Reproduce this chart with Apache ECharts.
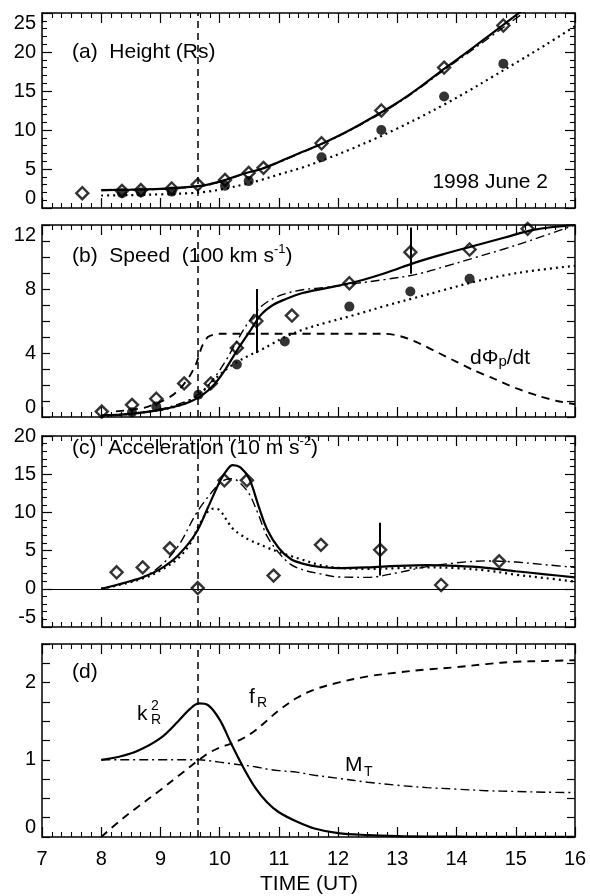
<!DOCTYPE html>
<html><head><meta charset="utf-8">
<script src="https://cdn.jsdelivr.net/npm/echarts@6/dist/echarts.min.js"></script>
<style>html,body{margin:0;padding:0;background:#fff}#c{width:590px;height:896px}</style>
</head><body><div id="c"></div>
<script>
// ---------- DATA ----------
const xTicks = [7, 8, 9, 10, 11, 12, 13, 14, 15, 16];
const onsetTime = 9.63;

// Panel (a) Height (Rs)
const aT = [8.0, 8.5, 9.0, 9.5, 9.8, 10.1, 10.4, 10.7, 11.0, 11.4, 11.8, 12.2, 12.6, 13.0, 13.4, 13.8, 14.2, 14.6, 15.0, 15.5, 16.0];
const aSolid   = [2.3, 2.35, 2.45, 2.7, 3.0, 3.6, 4.4, 5.0, 5.9, 7.2, 8.5, 10.0, 11.7, 13.5, 15.6, 17.9, 20.1, 22.4, 24.7, 27.5, 30.3];
const aDashDot = [2.25, 2.3, 2.4, 2.65, 2.95, 3.55, 4.35, 5.0, 5.85, 7.15, 8.45, 9.95, 11.6, 13.4, 15.5, 17.75, 19.9, 22.1, 24.3, 27.0, 29.7];
const aDotted  = [1.6, 1.65, 1.75, 1.9, 2.1, 2.5, 3.0, 3.6, 4.3, 5.2, 6.3, 7.5, 8.8, 10.2, 11.7, 13.3, 15.0, 16.8, 18.6, 20.9, 23.3];
const aDiamT = [7.68, 8.35, 8.67, 9.19, 9.63, 10.09, 10.49, 10.74, 11.72, 12.73, 13.79, 14.79];
const aDiamV = [1.9, 2.2, 2.3, 2.5, 3.0, 3.6, 4.5, 5.15, 8.3, 12.5, 18.0, 23.4];
const aDotT = [8.35, 8.67, 9.19, 10.09, 10.49, 11.72, 12.73, 13.79, 14.79];
const aDotV = [1.9, 2.0, 2.1, 2.85, 3.45, 6.5, 10.0, 14.3, 18.5];

// Panel (b) Speed (100 km/s)
const bT = [8.0, 8.5, 9.0, 9.3, 9.5, 9.7, 9.9, 10.1, 10.3, 10.5, 10.7, 10.9, 11.1, 11.4, 11.8, 12.3, 12.8, 13.3, 13.8, 14.3, 14.8, 15.3, 16.0];
const bSolid   = [0.1, 0.2, 0.45, 0.7, 0.95, 1.35, 2.0, 3.0, 4.2, 5.3, 6.4, 7.0, 7.35, 7.75, 8.05, 8.45, 9.0, 9.65, 10.2, 10.7, 11.2, 11.7, 12.0];
const bDashDot = [0.1, 0.2, 0.5, 0.8, 1.1, 1.6, 2.4, 3.5, 4.8, 6.0, 6.9, 7.4, 7.7, 7.95, 8.1, 8.35, 8.6, 8.9, 9.4, 9.95, 10.5, 11.1, 12.0];
const bDotted  = [0.05, 0.2, 0.45, 0.7, 1.0, 1.55, 2.3, 2.95, 3.45, 3.85, 4.2, 4.6, 5.0, 5.45, 5.9, 6.4, 6.95, 7.45, 7.95, 8.45, 8.85, 9.15, 9.45];
const bFluxT = [8.25, 8.5, 8.75, 9.0, 9.2, 9.35, 9.5, 9.6, 9.7, 9.8, 9.9, 10.0, 11.0, 12.0, 12.8, 13.1, 13.4, 13.7, 14.0, 14.3, 14.6, 15.0, 15.4, 15.7, 16.0];
const bFluxV = [0.35, 0.45, 0.6, 0.95, 1.35, 1.85, 2.6, 3.3, 4.4, 5.0, 5.15, 5.2, 5.2, 5.2, 5.2, 5.0, 4.55, 4.0, 3.45, 2.9, 2.45, 1.8, 1.3, 1.0, 0.8];
const bDiamT = [8.01, 8.52, 8.93, 9.4, 9.85, 10.29, 10.62, 11.22, 12.19, 13.22, 14.22, 15.2];
const bDiamV = [0.34, 0.76, 1.14, 2.1, 2.1, 4.32, 6.0, 6.34, 8.36, 10.3, 10.47, 11.76];
const bDotT = [8.52, 8.93, 9.64, 10.29, 11.1, 12.19, 13.22, 14.22];
const bDotV = [0.3, 0.66, 1.39, 3.28, 4.72, 6.9, 7.84, 8.64];
const bErrT  = [10.62, 13.22];
const bErrLo = [4.0, 8.95];
const bErrHi = [8.0, 11.85];

// Panel (c) Acceleration (10 m/s^2)
const cT = [8.0, 8.3, 8.7, 9.0, 9.3, 9.6, 9.8, 10.0, 10.1, 10.22, 10.35, 10.5, 10.65, 10.8, 11.0, 11.2, 11.4, 11.7, 12.0, 12.5, 13.0, 13.5, 14.0, 14.5, 15.0, 15.5, 16.0];
const cSolid   = [0, 0.6, 1.5, 2.6, 4.4, 7.3, 10.6, 14.0, 15.3, 16.2, 15.9, 14.4, 11.0, 7.8, 5.3, 3.9, 3.3, 2.85, 2.7, 2.8, 3.0, 3.1, 3.0, 2.75, 2.3, 1.9, 1.5];
const cDashDot = [0, 0.55, 1.5, 3.0, 5.6, 9.8, 12.0, 13.8, 14.3, 14.4, 13.8, 12.4, 9.8, 6.9, 4.7, 3.2, 2.5, 1.95, 1.55, 1.5, 2.1, 2.9, 3.4, 3.65, 3.5, 3.15, 2.8];
const cDotT = [8.0, 8.3, 8.7, 9.0, 9.3, 9.5, 9.65, 9.8, 9.9, 10.0, 10.1, 10.22, 10.35, 10.5, 10.65, 10.8, 11.0, 11.2, 11.4, 11.7, 12.0, 12.5, 13.0, 13.5, 14.0, 14.5, 15.0, 15.5, 16.0];
const cDotted  = [0, 0.5, 1.35, 2.4, 4.0, 5.9, 8.3, 10.1, 10.5, 10.3, 9.2, 7.9, 7.1, 6.4, 5.9, 5.4, 4.8, 4.3, 3.8, 3.1, 2.75, 2.6, 2.7, 2.8, 2.7, 2.4, 1.85, 1.4, 0.95];
const cDiamT = [8.26, 8.70, 9.16, 9.63, 10.08, 10.46, 10.91, 11.71, 12.71, 13.74, 14.72];
const cDiamV = [2.16, 2.8, 5.3, 0.1, 14.2, 14.2, 1.73, 5.75, 5.1, 0.5, 3.6];
const cErrT  = [12.71];
const cErrLo = [1.73];
const cErrHi = [8.65];

// Panel (d) k_R^2, f_R, M_T
const dT = [8.0, 8.3, 8.6, 9.0, 9.3, 9.5, 9.65, 9.8, 10.0, 10.2, 10.4, 10.6, 10.8, 11.0, 11.3, 11.6, 12.0, 12.5, 13.0, 13.5, 14.0, 14.5, 15.0, 15.5, 16.0];
const dK = [1.0, 1.04, 1.11, 1.28, 1.5, 1.66, 1.73, 1.71, 1.52, 1.2, 0.9, 0.64, 0.45, 0.32, 0.2, 0.11, 0.05, 0.025, 0.012, 0.006, 0.004, 0.003, 0.002, 0.002, 0.001];
const dF = [0, 0.2, 0.38, 0.61, 0.79, 0.91, 1.0, 1.08, 1.16, 1.21, 1.28, 1.38, 1.51, 1.64, 1.8, 1.91, 2.0, 2.08, 2.13, 2.17, 2.2, 2.24, 2.27, 2.28, 2.29];
const dM = [1.0, 1.0, 1.0, 1.0, 1.0, 1.0, 1.0, 0.99, 0.97, 0.95, 0.93, 0.91, 0.88, 0.86, 0.84, 0.8, 0.76, 0.71, 0.67, 0.64, 0.62, 0.6, 0.59, 0.58, 0.575];

// ---------- CHART ----------
const FONT = 'Liberation Sans, Arial, Helvetica, sans-serif';
const K = '#000';
const zip = (T, V) => T.map((t, i) => [t, V[i]]);

const grids = [
  {left: 42, right: 15, top: 13, height: 195},
  {left: 42, right: 15, top: 225, height: 192},
  {left: 42, right: 15, top: 436, height: 191},
  {left: 42, right: 15, top: 644, height: 193}
];
const yCfg = [
  {min: 0, max: 25, interval: 5, minor: 5, fmt: v => String(v), maxVA: 'top', minVA: 'bottom'},
  {min: 0, max: 12, interval: 1, minor: 0, fmt: v => (v % 4 === 0 ? String(v) : ''), maxVA: 'top', minVA: 'bottom'},
  {min: -5, max: 20, interval: 5, minor: 5, fmt: v => String(v), maxVA: 'middle', minVA: 'bottom'},
  {min: 0, max: 2.5, interval: 0.25, minor: 0, fmt: v => (Math.abs(v - Math.round(v)) < 1e-6 ? String(Math.round(v)) : ''), maxVA: 'middle', minVA: 'bottom'}
];

const xAxis = [], yAxis = [];
grids.forEach((g, i) => {
  ['bottom', 'top'].forEach(pos => {
    xAxis.push({
      type: 'value', gridIndex: i, position: pos, min: xTicks[0], max: xTicks[xTicks.length - 1], interval: 1,
      axisLine: {show: true, onZero: false, lineStyle: {color: K, width: 1.5}},
      axisTick: {show: true, inside: true, length: 10, lineStyle: {color: K, width: 1.2}},
      minorTick: {show: true, splitNumber: 6, length: 5, lineStyle: {color: K, width: 1.1}},
      splitLine: {show: false},
      axisLabel: {show: pos === 'bottom' && i === 3, color: K, fontFamily: FONT, fontSize: 20, margin: 12}
    });
  });
  const c = yCfg[i];
  ['left', 'right'].forEach(pos => {
    yAxis.push({
      type: 'value', gridIndex: i, position: pos, min: c.min, max: c.max, interval: c.interval,
      axisLine: {show: true, onZero: false, lineStyle: {color: K, width: 1.5}},
      axisTick: {show: true, inside: true, length: c.minor ? 10 : 8, lineStyle: {color: K, width: 1.2}},
      minorTick: {show: !!c.minor, splitNumber: c.minor || 5, length: 5, lineStyle: {color: K, width: 1.1}},
      splitLine: {show: false},
      axisLabel: {show: pos === 'left', color: K, fontFamily: FONT, fontSize: 20, margin: 6,
        formatter: c.fmt, verticalAlignMaxLabel: c.maxVA, verticalAlignMinLabel: c.minVA}
    });
  });
});

const STY = {
  solid: {type: 'solid', width: 2.2},
  dashdot: {type: [9, 4, 2, 4], width: 1.4},
  dotted: {type: [2, 4], width: 2.2},
  dashed: {type: [8, 6], width: 1.9}
};
function line(gi, T, V, sty, extra) {
  return Object.assign({
    type: 'line', xAxisIndex: gi * 2, yAxisIndex: gi * 2, data: zip(T, V),
    showSymbol: false, symbol: 'none', smooth: 0.35, clip: true,
    lineStyle: Object.assign({color: K}, STY[sty]), z: 3
  }, extra || {});
}
function diamonds(gi, T, V) {
  return {type: 'scatter', xAxisIndex: gi * 2, yAxisIndex: gi * 2, data: zip(T, V),
    symbol: 'diamond', symbolSize: 12,
    itemStyle: {color: 'rgba(255,255,255,0)', borderColor: K, borderWidth: 2.4}, z: 5};
}
function dots(gi, T, V) {
  return {type: 'scatter', xAxisIndex: gi * 2, yAxisIndex: gi * 2, data: zip(T, V),
    symbol: 'circle', symbolSize: 10, itemStyle: {color: K}, z: 5};
}
function vmark(extraData) {
  const data = [{xAxis: onsetTime, lineStyle: {type: [7, 5], width: 1.5, color: K}}].concat(extraData || []);
  return {silent: true, symbol: ['none', 'none'], label: {show: false}, animation: false, data: data};
}
function errBars(T, lo, hi) {
  return T.map((t, i) => [{coord: [t, lo[i]], lineStyle: {type: 'solid', width: 2, color: K}}, {coord: [t, hi[i]]}]);
}

const series = [
  // (a)
  line(0, aT, aSolid, 'solid', {markLine: vmark()}),
  line(0, aT, aDashDot, 'dashdot'),
  line(0, aT, aDotted, 'dotted'),
  diamonds(0, aDiamT, aDiamV),
  dots(0, aDotT, aDotV),
  // (b)
  line(1, bT, bSolid, 'solid', {markLine: vmark(errBars(bErrT, bErrLo, bErrHi))}),
  line(1, bT, bDashDot, 'dashdot'),
  line(1, bT, bDotted, 'dotted'),
  line(1, bFluxT, bFluxV, 'dashed', {smooth: 0.25}),
  diamonds(1, bDiamT, bDiamV),
  dots(1, bDotT, bDotV),
  // (c)
  line(2, cT, cSolid, 'solid', {markLine: vmark([{yAxis: 0, lineStyle: {type: 'solid', width: 1.2, color: K}}].concat(errBars(cErrT, cErrLo, cErrHi)))}),
  line(2, cT, cDashDot, 'dashdot'),
  line(2, cDotT, cDotted, 'dotted'),
  diamonds(2, cDiamT, cDiamV),
  // (d)
  line(3, dT, dK, 'solid', {markLine: vmark()}),
  line(3, dT, dF, 'dashed'),
  line(3, dT, dM, 'dashdot')
];

function txt(x, y, text, size, align, extra) {
  return Object.assign({type: 'text', x: x, y: y, silent: true, z: 10,
    style: {text: text, fontFamily: FONT, fontSize: size, fill: K, align: align || 'left', verticalAlign: 'middle'}}, extra || {});
}
function rtxt(x, y, text, rich) {
  return {type: 'text', x: x, y: y, silent: true, z: 10,
    style: {text: text, fontFamily: FONT, fontSize: 21, fill: K, align: 'left', verticalAlign: 'middle', rich: rich}};
}
const RICH = {
  m: {fontFamily: FONT, fontSize: 21, lineHeight: 24, fill: K, verticalAlign: 'bottom'},
  sup: {fontFamily: FONT, fontSize: 13, lineHeight: 24, fill: K, verticalAlign: 'top'},
  sub: {fontFamily: FONT, fontSize: 15, lineHeight: 15, fill: K, verticalAlign: 'bottom'}
};

const graphic = [
  txt(72, 52, '(a)  Height (Rs)', 21),
  txt(548, 182, '1998 June 2', 21, 'right'),
  rtxt(72, 255, '{m|(b)  Speed  (100 km s}{sup|-1}{m|)}', RICH),
  rtxt(470, 357, '{m|dΦ}{sub|p}{m|/dt}', RICH),
  rtxt(72, 447, '{m|(c)  Acceleration (10 m s}{sup|-2}{m|)}', RICH),
  txt(72, 672, '(d)', 21),
  txt(137, 714, 'k', 21),
  txt(151, 706, '2', 14),
  txt(151, 720, 'R', 14),
  txt(249, 697, 'f', 21),
  txt(257, 703, 'R', 14),
  txt(345, 765, 'M', 21),
  txt(364, 772, 'T', 14),
  txt(309, 884, 'TIME (UT)', 21, 'center')
];

const chart = echarts.init(document.getElementById('c'), null, {renderer: 'canvas'});
chart.setOption({
  animation: false,
  backgroundColor: '#fff',
  grid: grids,
  xAxis: xAxis,
  yAxis: yAxis,
  series: series,
  graphic: graphic
});
</script></body></html>
